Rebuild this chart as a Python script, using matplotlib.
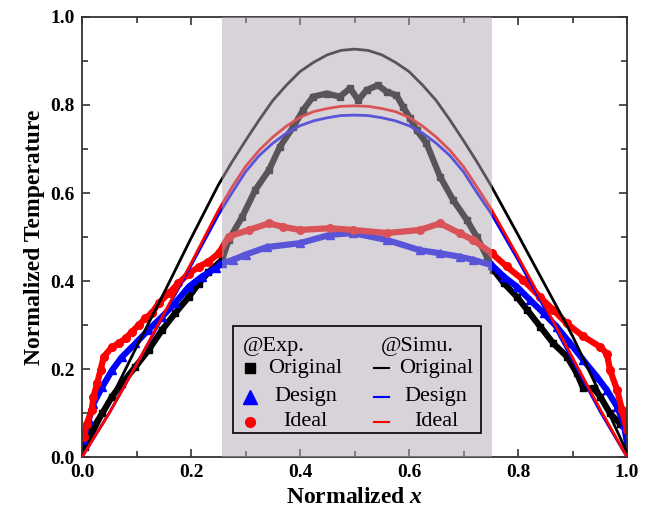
import matplotlib
matplotlib.use("Agg")
import matplotlib.pyplot as plt
from matplotlib.patches import Rectangle
from matplotlib.ticker import MultipleLocator

plt.rcParams['font.family'] = ['Liberation Serif', 'DejaVu Serif']
plt.rcParams['mathtext.fontset'] = 'custom'
plt.rcParams['mathtext.it'] = 'Liberation Serif:bold:italic'
plt.rcParams['mathtext.rm'] = 'Liberation Serif:bold'

# simulation curves
sim_x = [0.0, 0.05, 0.1, 0.15, 0.2, 0.25, 0.275, 0.3, 0.325, 0.35, 0.375, 0.4,
         0.425, 0.45, 0.475, 0.5, 0.525, 0.55, 0.575, 0.6, 0.625, 0.65, 0.675,
         0.7, 0.725, 0.75, 0.8, 0.85, 0.9, 0.95, 1.0]
sim_original = [0.0, 0.125, 0.25, 0.372, 0.497, 0.618, 0.67, 0.719, 0.766, 0.81, 0.845, 0.876,
                0.897, 0.914, 0.924, 0.927, 0.924, 0.914, 0.897, 0.876, 0.845, 0.81, 0.766,
                0.719, 0.67, 0.618, 0.505, 0.39, 0.275, 0.145, 0.01]
sim_design = [0.0, 0.10, 0.21, 0.322, 0.435, 0.55, 0.60, 0.648, 0.685, 0.713, 0.736, 0.753,
              0.764, 0.771, 0.776, 0.777, 0.776, 0.771, 0.764, 0.753, 0.736, 0.713, 0.685,
              0.648, 0.60, 0.555, 0.448, 0.335, 0.22, 0.105, 0.0]
sim_ideal = [0.0, 0.10, 0.21, 0.325, 0.44, 0.56, 0.613, 0.66, 0.697, 0.727, 0.752, 0.772,
             0.785, 0.792, 0.797, 0.798, 0.797, 0.792, 0.785, 0.772, 0.752, 0.727, 0.697,
             0.66, 0.613, 0.565, 0.455, 0.342, 0.226, 0.11, 0.0]

# experimental data
exp_orig_x = [0.006, 0.018, 0.037, 0.055, 0.073, 0.098, 0.122, 0.147, 0.171, 0.196,
              0.214, 0.232, 0.257, 0.269, 0.294, 0.318, 0.343, 0.363, 0.388, 0.406,
              0.424, 0.449, 0.473, 0.492, 0.507, 0.522, 0.543, 0.559, 0.577, 0.589,
              0.602, 0.614, 0.632, 0.657, 0.681, 0.706, 0.724, 0.743, 0.755, 0.774,
              0.798, 0.817, 0.841, 0.865, 0.89, 0.908, 0.92, 0.939, 0.951, 0.969,
              0.987, 1.0]
exp_orig_y = [0.023, 0.061, 0.099, 0.137, 0.167, 0.205, 0.243, 0.289, 0.327, 0.364,
              0.394, 0.42, 0.448, 0.493, 0.546, 0.607, 0.652, 0.705, 0.751, 0.789,
              0.819, 0.826, 0.819, 0.838, 0.811, 0.834, 0.845, 0.83, 0.822, 0.796,
              0.77, 0.743, 0.713, 0.637, 0.584, 0.539, 0.501, 0.455, 0.425, 0.395,
              0.364, 0.334, 0.296, 0.258, 0.228, 0.19, 0.156, 0.156, 0.137, 0.099,
              0.076, 0.061]

exp_design_x = [0.003, 0.012, 0.021, 0.037, 0.055, 0.073, 0.098, 0.122, 0.147, 0.171,
                0.196, 0.22, 0.245, 0.257, 0.277, 0.30, 0.339, 0.4, 0.455, 0.497,
                0.56, 0.62, 0.657, 0.694, 0.718, 0.752, 0.774, 0.798, 0.822, 0.847,
                0.871, 0.896, 0.92, 0.945, 0.963, 0.982, 0.994, 1.0]
exp_design_y = [0.039, 0.083, 0.121, 0.159, 0.197, 0.227, 0.258, 0.289, 0.319, 0.35,
                0.387, 0.41, 0.429, 0.44, 0.448, 0.46, 0.477, 0.486, 0.505, 0.509,
                0.493, 0.47, 0.463, 0.455, 0.448, 0.436, 0.41, 0.387, 0.357, 0.327,
                0.296, 0.258, 0.22, 0.182, 0.152, 0.114, 0.076, 0.031]

exp_ideal_x = [0.003, 0.009, 0.018, 0.021, 0.028, 0.034, 0.04, 0.055, 0.067, 0.08,
               0.092, 0.104, 0.116, 0.128, 0.141, 0.159, 0.177, 0.196, 0.214, 0.232,
               0.251, 0.269, 0.306, 0.343, 0.369, 0.4, 0.455, 0.497, 0.56, 0.62,
               0.657, 0.694, 0.718, 0.752, 0.779, 0.81, 0.84, 0.865, 0.889, 0.92,
               0.951, 0.963, 0.969, 0.982, 0.991, 1.0]
exp_ideal_y = [0.046, 0.076, 0.107, 0.137, 0.168, 0.198, 0.228, 0.25, 0.258, 0.27,
               0.285, 0.30, 0.315, 0.327, 0.35, 0.372, 0.395, 0.417, 0.432, 0.444,
               0.463, 0.501, 0.516, 0.531, 0.523, 0.516, 0.52, 0.516, 0.509, 0.516,
               0.531, 0.508, 0.493, 0.463, 0.433, 0.402, 0.364, 0.334, 0.304, 0.274,
               0.25, 0.235, 0.197, 0.152, 0.106, 0.061]

entry_labels = ['Original', 'Design', 'Ideal']
entry_colors = ['black', 'blue', 'red']
entry_markers = ['s', '^', 'o']
entry_msizes = [7, 10, 7]

fig = plt.figure(figsize=(6.53, 5.15), dpi=100)
ax = fig.add_axes([0.1256, 0.1126, 0.8346, 0.8544])

# experiments (drawn as dense marker bands)
ax.plot(exp_orig_x, exp_orig_y, color='black', marker='s', ms=5, lw=4.5, zorder=2)
ax.plot(exp_design_x, exp_design_y, color='blue', marker='^', ms=5.5, lw=4.5, zorder=2)
ax.plot(exp_ideal_x, exp_ideal_y, color='red', marker='o', ms=5.5, lw=4.5, zorder=2)

# simulations
ax.plot(sim_x, sim_original, color='black', lw=2, zorder=3)
ax.plot(sim_x, sim_design, color='blue', lw=2, zorder=3)
ax.plot(sim_x, sim_ideal, color='red', lw=2, zorder=3)

# shaded region covers the curves
ax.axvspan(0.257, 0.752, color='#b2a8b2', alpha=0.5, lw=0, zorder=4)

ax.set_xlim(0, 1)
ax.set_ylim(0, 1)
ax.xaxis.set_major_locator(MultipleLocator(0.2))
ax.xaxis.set_minor_locator(MultipleLocator(0.1))
ax.yaxis.set_major_locator(MultipleLocator(0.2))
ax.yaxis.set_minor_locator(MultipleLocator(0.1))
ax.tick_params(which='both', direction='in', top=True, right=True, width=1.2, color='#333333')
ax.tick_params(which='major', length=6, labelsize=14, pad=5)
ax.tick_params(which='minor', length=4)
for lab in ax.get_xticklabels() + ax.get_yticklabels():
    lab.set_fontweight('bold')
for s in ax.spines.values():
    s.set_linewidth(1.3)
    s.set_color('#333333')

ax.set_xlabel('Normalized $x$', fontsize=17, fontweight='bold', labelpad=4)
ax.set_ylabel('Normalized Temperature', fontsize=17, fontweight='bold', labelpad=4)

# two-column legend, laid out by hand in axes coordinates
tr = ax.transAxes
ax.add_patch(Rectangle((0.277, 0.0545), 0.455, 0.2435, transform=tr, fill=False,
                       edgecolor='black', lw=1.2, zorder=6))
row_y = [0.2015, 0.137, 0.080]
ax.text(0.296, 0.251, '@Exp.', transform=tr, fontsize=16, ha='left', va='center', zorder=6)
ax.text(0.615, 0.251, '@Simu.', transform=tr, fontsize=16, ha='center', va='center', zorder=6)
for ry, lab, c, m, msz in zip(row_y, entry_labels, entry_colors, entry_markers, entry_msizes):
    ax.plot([0.308], [ry], transform=tr, ls='none', marker=m, color=c, ms=msz,
            zorder=6, clip_on=False)
    ax.text(0.41, ry, lab, transform=tr, fontsize=16, ha='center', va='center', zorder=6)
    ax.plot([0.536, 0.563], [ry, ry], transform=tr, color=c, lw=1.5, zorder=6)
    ax.text(0.65, ry, lab, transform=tr, fontsize=16, ha='center', va='center', zorder=6)

fig.savefig('out.png', dpi=100)
